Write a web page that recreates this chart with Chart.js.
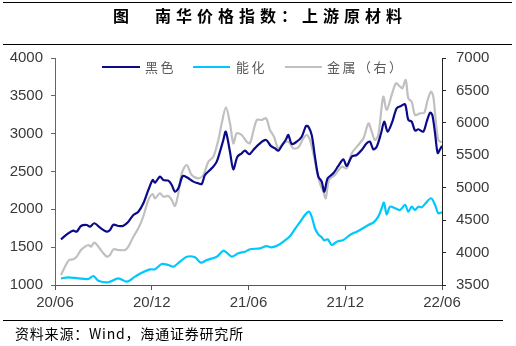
<!DOCTYPE html>
<html>
<head>
<meta charset="utf-8">
<script src="https://cdn.jsdelivr.net/npm/chart.js@4/dist/chart.umd.min.js"></script>
<style>
  html, body { margin: 0; padding: 0; background: #fff; }
  #wrap { position: relative; width: 516px; height: 346px; overflow: hidden; background: #fff; }
  #c { position: absolute; left: 0; top: 0; }
  .rule { position: absolute; left: 3px; height: 1px; background: #000; }
  #title { position: absolute; left: 113px; top: 6px; font: bold 16px/18px "Noto Sans CJK SC", sans-serif; letter-spacing: 5px; color: #000; white-space: nowrap; }
  #source { position: absolute; left: 15px; top: 325px; font: 14px/16px "Noto Sans CJK SC", sans-serif; letter-spacing: 0.8px; color: #000; white-space: nowrap; }
  .lg-line { position: absolute; height: 2px; top: 66px; }
  .lg-text { position: absolute; top: 59px; font: 13px/16px "Noto Sans CJK SC", sans-serif; letter-spacing: 2.5px; color: #595959; white-space: nowrap; }
</style>
</head>
<body>
<div id="wrap">
  <canvas id="c" width="516" height="346"></canvas>
  <div class="rule" style="top:2px;width:509px;"></div>
  <div id="title">图　南华价格指数：上游原材料</div>
  <div class="rule" style="top:44px;width:509px;"></div>
  <div class="lg-line" style="left:102px;width:38px;background:#0b0b8a;"></div>
  <div class="lg-text" style="left:145px;">黑色</div>
  <div class="lg-line" style="left:193px;width:37px;background:#00c8ff;"></div>
  <div class="lg-text" style="left:236px;">能化</div>
  <div class="lg-line" style="left:285px;width:37px;background:#c0c0c0;"></div>
  <div class="lg-text" style="left:327px;">金属（右）</div>
  <div class="rule" style="top:320px;width:500px;"></div>
  <div id="source">资料来源：Wind，海通证券研究所</div>
</div>
<script>
// x values are months since 2020-06
const xTickLabels = ['20/06', '20/12', '21/06', '21/12', '22/06'];
const seriesNames = ['黑色', '能化', '金属（右）'];

const blackMonths = [0.37,0.82,1.13,1.35,1.61,1.97,2.17,2.44,2.79,3.21,3.41,3.62,3.93,4.24,4.55,4.86,5.17,5.48,5.79,6.06,6.20,6.51,6.72,7.03,7.24,7.44,7.65,7.92,8.17,8.58,8.89,9.10,9.30,9.61,9.82,10.03,10.23,10.44,10.59,10.85,11.06,11.31,11.58,11.78,12.05,12.30,12.71,13.09,13.38,13.64,13.85,14.06,14.33,14.47,14.68,14.99,15.30,15.57,15.71,15.92,16.12,16.33,16.54,16.70,16.91,17.26,17.57,17.88,18.09,18.40,18.71,19.02,19.33,19.53,19.74,19.95,20.22,20.42,20.63,20.92,21.19,21.46,21.71,21.91,22.12,22.33,22.53,22.84,23.05,23.26,23.40,23.57,23.73,23.88,24.00];
const blackValues = [1604,1683,1718,1705,1780,1793,1771,1816,1758,1705,1727,1797,1780,1784,1837,1925,1969,2080,2256,2388,2352,2432,2388,2379,2322,2233,2278,2441,2424,2366,2344,2335,2454,2520,2564,2630,2762,2917,3027,2762,2529,2696,2741,2775,2728,2785,2873,2917,2838,2807,2775,2838,2926,2983,2864,2894,2960,3102,3093,2983,2696,2432,2366,2233,2410,2477,2573,2661,2573,2696,2718,2785,2873,2894,2794,2828,3005,3159,3027,3159,3336,3366,3389,3181,3159,3040,3058,3027,3159,3278,3247,3005,2745,2794,2838];

const chemMonths = [0.37,0.82,1.44,2.07,2.38,2.69,3.31,3.93,4.45,4.96,5.38,5.89,6.20,6.62,7.03,7.34,7.75,8.17,8.68,9.04,9.41,10.03,10.44,10.65,10.96,11.37,11.78,12.09,12.71,13.12,13.44,13.85,14.26,14.57,14.88,15.19,15.50,15.75,15.92,16.12,16.33,16.54,16.70,16.91,17.16,17.47,17.88,18.29,18.71,19.10,19.43,19.74,20.05,20.26,20.40,20.57,20.78,21.09,21.40,21.71,21.91,22.12,22.33,22.53,22.74,22.98,23.32,23.57,23.77,24.00];
const chemValues = [1088,1101,1088,1079,1119,1057,1036,1088,1044,1110,1163,1207,1207,1278,1264,1242,1308,1374,1366,1295,1330,1374,1453,1427,1374,1419,1440,1472,1485,1515,1498,1529,1590,1645,1740,1830,1925,1969,1903,1750,1670,1630,1590,1604,1529,1573,1595,1661,1705,1750,1793,1825,1903,2014,2088,1935,2035,2014,1991,2058,1969,2035,1991,2035,2027,2080,2146,2058,1948,1960];

const metalMonths = [0.37,0.62,0.87,1.13,1.35,1.61,1.86,2.07,2.23,2.44,2.69,3.00,3.21,3.41,3.62,3.93,4.34,4.55,4.86,5.17,5.48,5.79,6.06,6.20,6.51,6.72,7.03,7.24,7.44,7.65,7.86,8.17,8.48,8.89,9.20,9.51,9.82,10.13,10.34,10.60,10.85,11.06,11.27,11.58,11.89,12.09,12.51,12.82,13.09,13.33,13.58,13.85,14.16,14.47,14.78,15.09,15.40,15.61,15.81,16.02,16.23,16.43,16.64,16.79,16.99,17.36,17.78,18.09,18.40,18.81,19.13,19.44,19.64,19.84,20.05,20.36,20.57,20.88,21.15,21.40,21.54,21.75,21.91,22.12,22.33,22.64,22.90,23.11,23.32,23.46,23.61,23.77,23.98];
const metalValues = [3654,3782,3886,3896,3937,4040,4091,4117,4091,4152,4091,3989,3937,3963,4050,4040,4040,4091,4245,4374,4560,4811,4903,4837,4914,4862,4872,4811,4718,4914,5222,5350,5196,5145,5196,5401,5478,5736,5993,6240,5993,5685,5839,5813,5710,5685,6044,6044,6070,5890,5787,5608,5685,5710,5608,5620,5760,5813,5736,5531,5273,5068,4939,4837,5119,5196,5324,5299,5531,5659,5762,5993,5864,5736,5813,6404,6198,6430,6610,6558,6533,6661,6379,6327,6121,6147,6157,6353,6481,6404,6044,5736,5700];

const toPoints = (xs, ys) => xs.map((x, i) => ({ x: x, y: ys[i] }));

Chart.defaults.font.family = '"Liberation Sans", Arial, sans-serif';
Chart.defaults.color = '#3a3a3a';

const axisFont = { size: 15, family: '"Liberation Sans", Arial, sans-serif' };
const plainNumber = (v) => String(v);

new Chart(document.getElementById('c'), {
  type: 'line',
  data: {
    datasets: [
      { label: seriesNames[0], data: toPoints(blackMonths, blackValues), yAxisID: 'y', borderColor: '#0b0b8a', backgroundColor: '#0b0b8a', borderWidth: 2.2, pointRadius: 0, tension: 0.3 },
      { label: seriesNames[1], data: toPoints(chemMonths, chemValues), yAxisID: 'y', borderColor: '#00c8ff', backgroundColor: '#00c8ff', borderWidth: 2.2, pointRadius: 0, tension: 0.3 },
      { label: seriesNames[2], data: toPoints(metalMonths, metalValues), yAxisID: 'y1', borderColor: '#c0c0c0', backgroundColor: '#c0c0c0', borderWidth: 2.2, pointRadius: 0, tension: 0.3 }
    ]
  },
  options: {
    responsive: false,
    animation: false,
    devicePixelRatio: 1,
    layout: { padding: { top: 58, left: 0, right: 0, bottom: 0 } },
    plugins: { legend: { display: false }, tooltip: { enabled: false } },
    scales: {
      x: {
        type: 'linear', min: 0, max: 24,
        afterFit: (s) => { s.height = 61; },
        ticks: { stepSize: 6, autoSkip: false, maxRotation: 0, font: axisFont, color: '#3a3a3a', padding: 4,
          callback: (v) => xTickLabels[Math.round(v / 6)] },
        grid: { drawOnChartArea: false, drawTicks: true, tickLength: 5, color: '#555' },
        border: { color: '#555', width: 1 }
      },
      y: {
        position: 'left', min: 1000, max: 4000,
        afterFit: (s) => { s.width = 55; },
        ticks: { stepSize: 500, font: axisFont, color: '#3a3a3a', padding: 8, callback: plainNumber },
        grid: { drawOnChartArea: false, drawTicks: true, tickLength: 4, color: '#666' },
        border: { color: '#666', width: 1 }
      },
      y1: {
        position: 'right', min: 3500, max: 7000,
        afterFit: (s) => { s.width = 74; },
        ticks: { stepSize: 500, font: axisFont, color: '#3a3a3a', padding: 10, callback: plainNumber },
        grid: { drawOnChartArea: false, drawTicks: true, tickLength: 4, color: '#222' },
        border: { color: '#222', width: 1 }
      }
    }
  }
});
</script>
</body>
</html>
